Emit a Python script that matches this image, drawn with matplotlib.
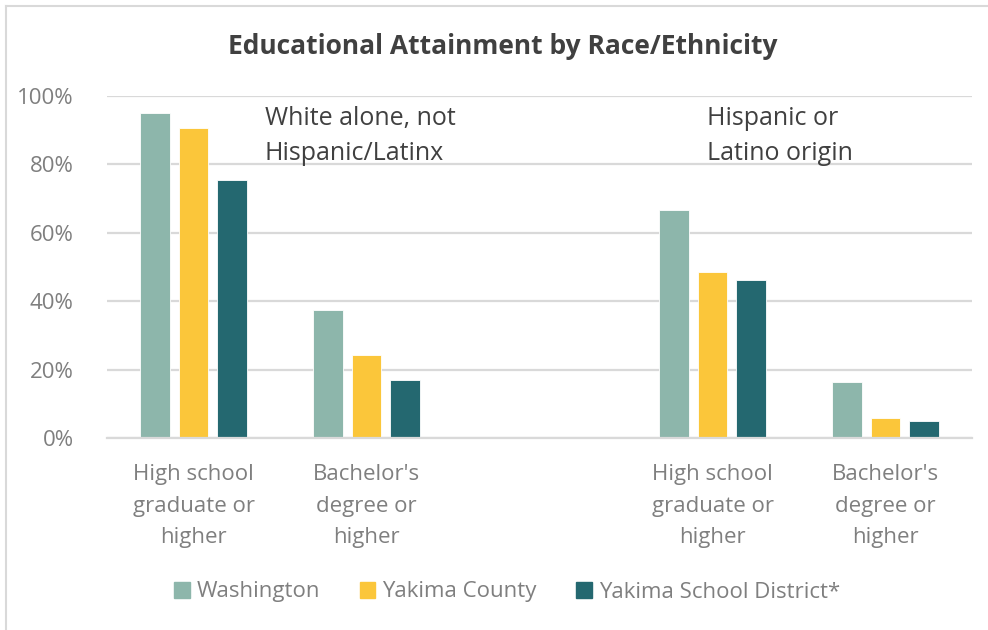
import matplotlib
matplotlib.use('Agg')
import matplotlib.pyplot as plt
import matplotlib.patches as mpatches
from matplotlib.lines import Line2D
import numpy as np

plt.rcParams['font.family'] = ['Open Sans', 'DejaVu Sans']

# data (fractions)
categories = ['High school\ngraduate or\nhigher', "Bachelor's\ndegree or\nhigher", '',
              'High school\ngraduate or\nhigher', "Bachelor's\ndegree or\nhigher"]
series_names = ['Washington', 'Yakima County', 'Yakima School District*']
washington = [0.950, 0.374, np.nan, 0.667, 0.165]
yakima_county = [0.905, 0.242, np.nan, 0.485, 0.058]
yakima_sd = [0.754, 0.170, np.nan, 0.461, 0.051]
group_labels = ['White alone, not\nHispanic/Latinx', 'Hispanic or\nLatino origin']

colors = ['#8DB6AB', '#FBC63A', '#246870']
grid_col = '#D9D9D9'
tick_col = '#7F7F7F'
text_col = '#404040'

W, H = 988, 630
fig = plt.figure(figsize=(W / 100, H / 100), dpi=100)
ax = fig.add_axes([107 / W, (H - 438) / H, 865 / W, 342 / H])

x = np.arange(len(categories))
width = 0.173
step = 0.222
for i, (vals, c) in enumerate(zip([washington, yakima_county, yakima_sd], colors)):
    ax.bar(x + (i - 1) * step, vals, width, color=c, edgecolor='white', linewidth=0.6, zorder=3)

ax.set_xlim(-0.5, len(categories) - 0.5)
ax.set_ylim(0, 1)
ax.set_yticks(np.arange(0, 1.01, 0.2))
ax.set_yticklabels([f'{int(round(v * 100))}%' for v in np.arange(0, 1.01, 0.2)])
ax.yaxis.grid(True, color=grid_col, linewidth=1.6, zorder=0)
ax.tick_params(axis='y', length=0, pad=24, labelsize=16, labelcolor=tick_col)
ax.set_xticks(x)
ax.set_xticklabels(categories, linespacing=1.65)
ax.tick_params(axis='x', length=0, pad=19, labelsize=16, labelcolor=tick_col)
for s in ['top', 'right', 'left']:
    ax.spines[s].set_visible(False)
ax.spines['bottom'].set_color(grid_col)
ax.spines['bottom'].set_linewidth(1.6)
ax.spines['bottom'].set_zorder(4)

# group labels
ax.text(0.413, 0.972, group_labels[0], ha='left', va='top', fontsize=18,
        color=text_col, linespacing=1.55)
ax.text(2.968, 0.972, group_labels[1], ha='left', va='top', fontsize=18,
        color=text_col, linespacing=1.55)

fig.text(503 / W, 1 - 46 / H, 'Educational Attainment by Race/Ethnicity',
         ha='center', va='center', fontsize=19, fontweight='bold', color=text_col)

handles = [mpatches.Patch(color=c, label=n) for c, n in zip(colors, series_names)]
fig.legend(handles=handles, loc='center', bbox_to_anchor=(507 / W, 1 - 592 / H),
           ncol=3, frameon=False, fontsize=16, labelcolor=tick_col,
           handlelength=0.7, handleheight=0.7, handletextpad=0.3, columnspacing=1.8)

# chart border (only left and top visible)
fig.add_artist(Line2D([5.5 / W, 5.5 / W], [0, 1 - 5.5 / H], color=grid_col, linewidth=1.5))
fig.add_artist(Line2D([5.5 / W, 1], [1 - 5.5 / H, 1 - 5.5 / H], color=grid_col, linewidth=1.5))

fig.savefig('out.png', dpi=100)
